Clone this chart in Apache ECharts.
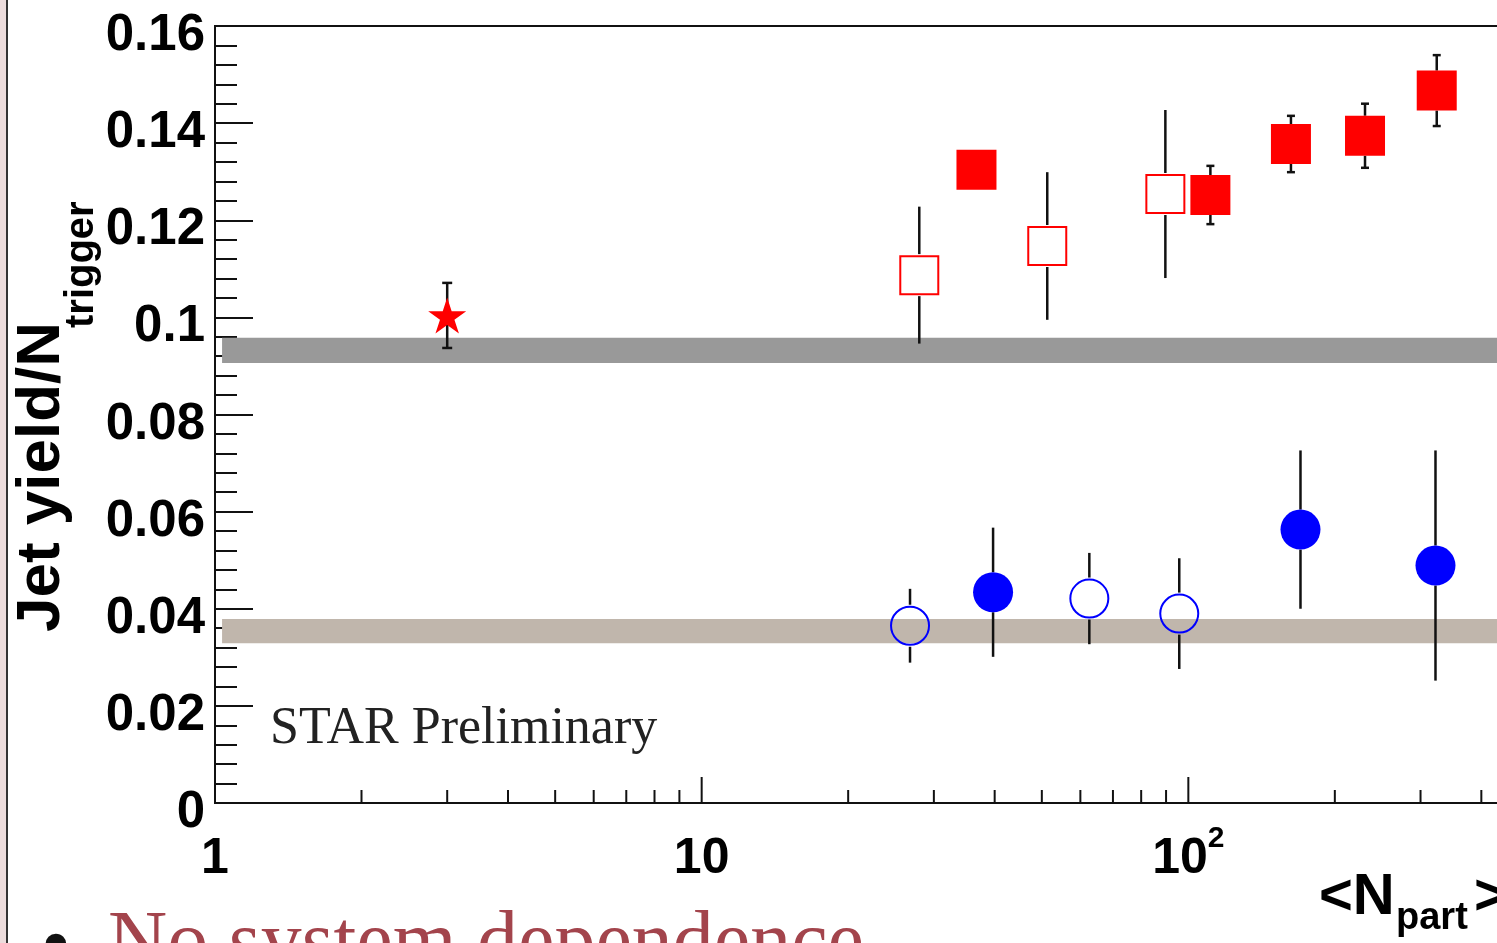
<!DOCTYPE html>
<html>
<head>
<meta charset="utf-8">
<script src="https://cdn.jsdelivr.net/npm/echarts@6/dist/echarts.min.js"></script>
<style>
  html, body { margin: 0; padding: 0; background: #fff; }
  #chart { width: 1497px; height: 943px; }
</style>
</head>
<body>
<div id="chart"></div>
<script>
// ---- data: <Npart>, jet yield per trigger, and its error ----
const starNpart = [3.0];
const starYield = [0.1004];
const starErr   = [0.0067];

const cuJetNpart = [28.0, 51.3, 89.7];
const cuJetYield = [0.1087, 0.1147, 0.1254];
const cuJetErr   = [0.0141, 0.0152, 0.0173];

const auJetNpart = [36.7, 111, 162.5, 230.7, 323.9];
const auJetYield = [0.1304, 0.1252, 0.1357, 0.1374, 0.1467];
const auJetErr   = [0.004, 0.006, 0.0058, 0.0066, 0.0073];

const cuHadNpart = [26.8, 62.6, 95.8];
const cuHadYield = [0.0365, 0.0421, 0.0390];
const cuHadErr   = [0.0076, 0.0094, 0.0114];

const auHadNpart = [39.7, 170, 322];
const auHadYield = [0.0434, 0.0563, 0.0489];
const auHadErr   = [0.0133, 0.0163, 0.0237];

// reference bands: [low, high]
const upperBand = [0.0906, 0.0958];
const lowerBand = [0.0329, 0.0379];
const bandStart = 1.034;

// axes
const xMin = 1, xMax = 1000;
const xMajorTicks = [1, 10, 100];
const xMinorTicks = [2, 3, 4, 5, 6, 7, 8, 9, 20, 30, 40, 50, 60, 70, 80, 90, 200, 300, 400, 500, 600];
const yMin = 0, yMax = 0.16, yStep = 0.02;

const SANS = "'Liberation Sans', Arial, Helvetica, sans-serif";
const SERIF = "'Liberation Serif', 'Times New Roman', serif";

const starPath = 'path://M50 0 L61.17 34.63 L97.55 34.55 L68.07 55.87 L79.39 90.45 L50 69 L20.61 90.45 L31.93 55.87 L2.45 34.55 L38.83 34.63 Z';

function pairs(xs, ys) { return xs.map((x, i) => [x, ys[i]]); }

// vertical error bars that stop at the marker edge, optional end caps
function errorBars(xs, ys, es, gap, cap) {
  return {
    type: 'custom',
    z: 3,
    silent: true,
    clip: false,
    data: xs.map((x, i) => [x, ys[i], es[i]]),
    encode: { x: 0, y: 1 },
    renderItem: function (params, api) {
      const x = api.value(0), y = api.value(1), e = api.value(2);
      const c = api.coord([x, y]);
      const t = api.coord([x, y + e]);
      const b = api.coord([x, y - e]);
      const style = { stroke: '#111', lineWidth: 2.5 };
      const kids = [];
      if (c[1] - t[1] > gap) {
        kids.push({ type: 'line', shape: { x1: c[0], y1: t[1], x2: c[0], y2: c[1] - gap }, style: style });
        if (cap) kids.push({ type: 'line', shape: { x1: c[0] - cap, y1: t[1], x2: c[0] + cap, y2: t[1] }, style: style });
      }
      if (b[1] - c[1] > gap) {
        kids.push({ type: 'line', shape: { x1: c[0], y1: c[1] + gap, x2: c[0], y2: b[1] }, style: style });
        if (cap) kids.push({ type: 'line', shape: { x1: c[0] - cap, y1: b[1], x2: c[0] + cap, y2: b[1] }, style: style });
      }
      return { type: 'group', children: kids };
    }
  };
}

function band(range, color) {
  return {
    type: 'custom',
    z: 1,
    silent: true,
    data: [[bandStart, range[0], range[1]]],
    encode: { x: 0, y: [1, 2] },
    renderItem: function (params, api) {
      const hi = api.coord([api.value(0), api.value(2)]);
      const lo = api.coord([api.value(0), api.value(1)]);
      const right = params.coordSys.x + params.coordSys.width;
      return {
        type: 'rect',
        shape: { x: hi[0], y: hi[1], width: right - hi[0], height: lo[1] - hi[1] },
        style: { fill: color }
      };
    }
  };
}

// ticks on the log axis, pointing into the plot
function xTicks(values, len) {
  return {
    type: 'custom',
    z: 4,
    silent: true,
    clip: false,
    data: values.map(v => [v, yMin]),
    encode: { x: 0, y: 1 },
    renderItem: function (params, api) {
      const p = api.coord([api.value(0), api.value(1)]);
      return {
        type: 'line',
        shape: { x1: p[0], y1: p[1], x2: p[0], y2: p[1] - len },
        style: { stroke: '#111', lineWidth: 2 }
      };
    }
  };
}

function markers(xs, ys, symbol, size, style) {
  return {
    type: 'scatter',
    z: 5,
    silent: true,
    symbol: symbol,
    symbolSize: size,
    data: pairs(xs, ys),
    itemStyle: Object.assign({ opacity: 1 }, style)
  };
}

const chart = echarts.init(document.getElementById('chart'), null, { renderer: 'canvas' });

chart.setOption({
  animation: false,
  backgroundColor: '#fff',
  grid: {
    left: 215, top: 26, width: 1460, height: 777,
    containLabel: false,
    outerBoundsMode: 'none',
    show: true, borderColor: '#111', borderWidth: 2, backgroundColor: 'transparent'
  },
  xAxis: {
    type: 'log',
    logBase: 10,
    min: xMin,
    max: xMax,
    axisLine: { show: true, lineStyle: { color: '#111', width: 2 } },
    axisTick: { show: false },
    minorTick: { show: false },
    splitLine: { show: false },
    axisLabel: {
      margin: 21,
      showMaxLabel: false,
      formatter: function (v) {
        const r = Math.round(v);
        if (r === 1) return '{b|1}';
        if (r === 10) return '{b|10}';
        if (r === 100) return '{b|10}{sup|2}';
        return '';
      },
      rich: {
        b: { fontSize: 50, fontWeight: 'bold', fontFamily: SANS, color: '#000', lineHeight: 60, verticalAlign: 'bottom' },
        sup: { fontSize: 30, fontWeight: 'bold', fontFamily: SANS, color: '#000', lineHeight: 30, verticalAlign: 'top' }
      }
    }
  },
  yAxis: {
    type: 'value',
    min: yMin,
    max: yMax,
    interval: yStep,
    axisLine: { show: true, lineStyle: { color: '#111', width: 2 } },
    axisTick: { show: true, inside: true, length: 38, lineStyle: { color: '#111', width: 2 } },
    minorTick: { show: true, splitNumber: 5, length: 22, lineStyle: { color: '#111', width: 2 } },
    splitLine: { show: false },
    axisLabel: {
      margin: 10,
      formatter: v => '{v|' + String(+v.toFixed(2)) + '}',
      rich: {
        v: { fontSize: 51, fontWeight: 'bold', fontFamily: SANS, color: '#000', lineHeight: 50, padding: [20, 0, 0, 0] }
      }
    }
  },
  series: [
    band(upperBand, '#999999'),
    band(lowerBand, '#c0b6ac'),
    xTicks(xMajorTicks, 26),
    xTicks(xMinorTicks, 13),
    errorBars(starNpart, starYield, starErr, 0, 5),
    errorBars(cuJetNpart, cuJetYield, cuJetErr, 21, 0),
    errorBars(auJetNpart, auJetYield, auJetErr, 20, 4),
    errorBars(cuHadNpart, cuHadYield, cuHadErr, 21, 0),
    errorBars(auHadNpart, auHadYield, auHadErr, 20, 0),
    markers(starNpart, starYield, starPath, [38, 36], { color: '#ff0000' }),
    markers(cuJetNpart, cuJetYield, 'rect', 38, { color: 'rgba(0,0,0,0)', borderColor: '#ff0000', borderWidth: 2 }),
    markers(auJetNpart, auJetYield, 'rect', 40, { color: '#ff0000' }),
    markers(cuHadNpart, cuHadYield, 'circle', 38, { color: 'rgba(0,0,0,0)', borderColor: '#0000ff', borderWidth: 2 }),
    markers(auHadNpart, auHadYield, 'circle', 40, { color: '#0000ff' })
  ],
  graphic: [
    { type: 'rect', shape: { x: 0, y: 0, width: 6, height: 943 }, style: { fill: '#ecdcdc' }, silent: true },
    { type: 'rect', shape: { x: 6, y: 0, width: 2, height: 943 }, style: { fill: '#333' }, silent: true },
    {
      type: 'text', x: 42, y: 632, rotation: Math.PI / 2, silent: true,
      style: { text: 'Jet yield/N', font: 'bold 62px ' + SANS, fill: '#000', align: 'left', verticalAlign: 'middle', textAlign: 'left', textVerticalAlign: 'middle' }
    },
    {
      type: 'text', x: 82, y: 328, rotation: Math.PI / 2, silent: true,
      style: { text: 'trigger', font: 'bold 40px ' + SANS, fill: '#000', align: 'left', verticalAlign: 'middle', textAlign: 'left', textVerticalAlign: 'middle' }
    },
    {
      type: 'text', x: 1319, y: 898, silent: true,
      style: { text: '<N', font: 'bold 58px ' + SANS, fill: '#000', align: 'left', verticalAlign: 'middle', textAlign: 'left', textVerticalAlign: 'middle' }
    },
    {
      type: 'text', x: 1396, y: 919, silent: true,
      style: { text: 'part', font: 'bold 38px ' + SANS, fill: '#000', align: 'left', verticalAlign: 'middle', textAlign: 'left', textVerticalAlign: 'middle' }
    },
    {
      type: 'text', x: 1474, y: 898, silent: true,
      style: { text: '>', font: 'bold 58px ' + SANS, fill: '#000', align: 'left', verticalAlign: 'middle', textAlign: 'left', textVerticalAlign: 'middle' }
    },
    {
      type: 'text', x: 270, y: 729, silent: true,
      style: { text: 'STAR Preliminary', font: '52px ' + SERIF, fill: '#222', align: 'left', verticalAlign: 'middle', textAlign: 'left', textVerticalAlign: 'middle' }
    },
    {
      type: 'text', x: 56, y: 951, silent: true,
      style: { text: '•', font: '88px ' + SERIF, fill: '#111', align: 'center', verticalAlign: 'middle', textAlign: 'center', textVerticalAlign: 'middle' }
    },
    {
      type: 'text', x: 108, y: 945, silent: true,
      style: { text: 'No system dependence', font: '82px ' + SERIF, fill: '#a3444c', align: 'left', verticalAlign: 'middle', textAlign: 'left', textVerticalAlign: 'middle' }
    }
  ]
});
</script>
</body>
</html>
